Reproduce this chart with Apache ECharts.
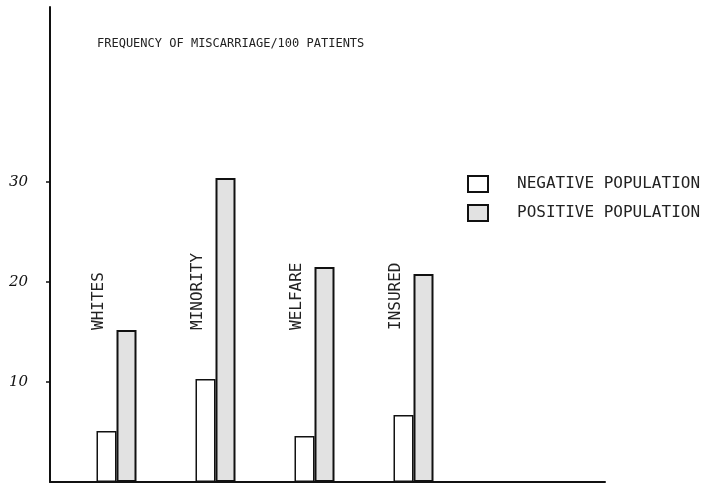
<!DOCTYPE html>
<html>
<head>
<meta charset="utf-8">
<script src="https://cdn.jsdelivr.net/npm/echarts@6/dist/echarts.min.js"></script>
<style>
  html, body { margin: 0; padding: 0; background: #fff; }
  #chart { width: 715px; height: 483px; }
</style>
</head>
<body>
<div id="chart"></div>
<script>
// 数据
let categories = ['WHITES', 'MINORITY', 'WELFARE', 'INSURED'];
let negativeValues = [5.1, 10.3, 4.6, 6.7];
let positiveValues = [15.2, 30.4, 21.5, 20.8];
let yTickValues = [10, 20, 30];

let monoFont = '"DejaVu Sans Mono", monospace';

let chart = echarts.init(document.getElementById('chart'));
let option = {
  animation: false,
  backgroundColor: '#fff',
  title: {
    text: 'FREQUENCY OF MISCARRIAGE/100 PATIENTS',
    left: 92,
    top: 33,
    textStyle: {
      fontFamily: monoFont,
      fontSize: 12,
      fontWeight: 'normal',
      color: '#222'
    }
  },
  legend: {
    orient: 'vertical',
    left: 462,
    top: 170,
    itemWidth: 20,
    itemHeight: 16,
    itemGap: 11,
    icon: 'rect',
    textStyle: {
      fontFamily: monoFont,
      fontSize: 16,
      color: '#222',
      padding: [0, 0, 0, 24]
    },
    data: ['NEGATIVE POPULATION', 'POSITIVE POPULATION']
  },
  // grid 0: 柱子, grid 1: 坐标框
  grid: [
    { left: 67, right: 252, top: 7, bottom: 1 },
    { left: 50, right: 110, top: 7, bottom: 1 }
  ],
  xAxis: [
    {
      type: 'category',
      gridIndex: 0,
      data: categories,
      axisLine: { show: false },
      axisTick: { show: false },
      axisLabel: {
        inside: true,
        rotate: 90,
        margin: 152,
        verticalAlign: 'bottom',
        padding: [0, 0, 10, 0],
        fontFamily: monoFont,
        fontSize: 16,
        color: '#222'
      }
    },
    {
      type: 'value',
      gridIndex: 1,
      min: 0,
      max: 1,
      axisLine: { show: true, lineStyle: { color: '#111', width: 2 } },
      axisTick: { show: false },
      axisLabel: { show: false },
      splitLine: { show: false }
    }
  ],
  yAxis: [
    {
      type: 'value',
      gridIndex: 0,
      min: 0,
      max: 47.5,
      show: false
    },
    {
      type: 'value',
      gridIndex: 1,
      min: 0,
      max: 47.5,
      axisLine: { show: true, lineStyle: { color: '#111', width: 2 } },
      axisTick: {
        show: true,
        length: 4,
        customValues: yTickValues,
        lineStyle: { color: '#111', width: 1.5 }
      },
      axisLabel: {
        customValues: yTickValues,
        margin: 22,
        fontFamily: '"DejaVu Serif", serif',
        fontStyle: 'italic',
        fontSize: 15,
        color: '#111'
      },
      splitLine: { show: false }
    }
  ],
  series: [
    {
      name: 'NEGATIVE POPULATION',
      type: 'bar',
      xAxisIndex: 0,
      yAxisIndex: 0,
      barWidth: 20,
      barGap: '0%',
      data: negativeValues,
      itemStyle: {
        color: '#fff',
        borderColor: '#111',
        borderWidth: 1.5
      }
    },
    {
      name: 'POSITIVE POPULATION',
      type: 'bar',
      xAxisIndex: 0,
      yAxisIndex: 0,
      barWidth: 20,
      data: positiveValues,
      itemStyle: {
        color: '#e2e2e2',
        borderColor: '#111',
        borderWidth: 2
      }
    }
  ]
};
chart.setOption(option);
</script>
</body>
</html>
